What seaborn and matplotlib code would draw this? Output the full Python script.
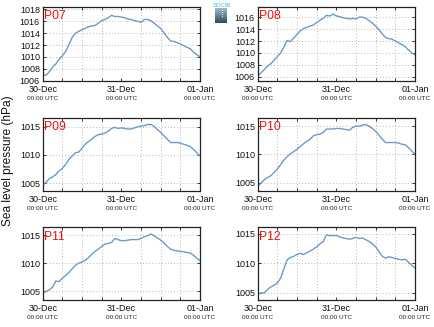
import numpy as np
import pandas as pd
import matplotlib
matplotlib.use("Agg")
import matplotlib.pyplot as plt
from matplotlib.ticker import FixedLocator, MultipleLocator
import seaborn as sns

# Hourly sea level pressure (hPa), 30-Dec 00:00 UTC to 01-Jan 00:00 UTC
hours = list(range(49))

p07 = [1007.1, 1006.9, 1007.5, 1008.3, 1008.8, 1009.6, 1010.2, 1010.9, 1012.1, 1013.3,
       1014.0, 1014.3, 1014.6, 1014.8, 1015.1, 1015.2, 1015.3, 1015.7, 1016.1, 1016.3,
       1016.6, 1017.0, 1016.8, 1016.8, 1016.7, 1016.6, 1016.4, 1016.3, 1016.1, 1016.0,
       1015.8, 1016.3, 1016.3, 1016.1, 1015.7, 1015.2, 1014.8, 1014.1, 1013.3, 1012.7,
       1012.6, 1012.4, 1012.2, 1011.9, 1011.6, 1011.4, 1010.8, 1010.4, 1010.0]
p08 = [1006.1, 1006.7, 1007.2, 1007.8, 1008.2, 1008.8, 1009.4, 1010.0, 1011.0, 1012.1,
       1011.9, 1012.5, 1013.1, 1013.7, 1014.1, 1014.3, 1014.5, 1014.7, 1015.1, 1015.5,
       1015.8, 1016.3, 1016.2, 1016.5, 1016.2, 1016.1, 1015.9, 1015.8, 1015.7, 1015.8,
       1015.7, 1016.0, 1016.0, 1015.8, 1015.4, 1015.0, 1014.5, 1013.9, 1013.2, 1012.6,
       1012.4, 1012.3, 1012.0, 1011.7, 1011.4, 1011.1, 1010.5, 1010.0, 1009.7]
p09 = [1004.7, 1005.1, 1005.8, 1006.1, 1006.5, 1007.2, 1007.6, 1008.3, 1009.2, 1009.8,
       1010.4, 1010.5, 1011.2, 1011.9, 1012.4, 1012.8, 1013.3, 1013.6, 1013.7, 1013.9,
       1014.2, 1014.7, 1014.9, 1014.7, 1014.8, 1014.7, 1014.6, 1014.6, 1014.8, 1015.0,
       1015.1, 1015.2, 1015.4, 1015.4, 1015.1, 1014.5, 1014.0, 1013.4, 1012.8, 1012.2,
       1012.2, 1012.2, 1012.1, 1011.9, 1011.7, 1011.5, 1011.0, 1010.4, 1009.8]
p10 = [1004.3, 1004.9, 1005.5, 1005.9, 1006.2, 1006.8, 1007.4, 1008.2, 1009.0, 1009.6,
       1010.1, 1010.5, 1010.9, 1011.4, 1011.9, 1012.3, 1012.7, 1013.3, 1013.5, 1013.6,
       1013.9, 1014.5, 1014.5, 1014.5, 1014.6, 1014.6, 1014.5, 1014.4, 1014.3, 1014.8,
       1015.0, 1015.0, 1015.2, 1015.3, 1015.0, 1014.6, 1014.1, 1013.4, 1012.7, 1012.1,
       1012.1, 1012.1, 1012.1, 1012.0, 1011.8, 1011.7, 1011.2, 1010.6, 1010.0]
p11 = [1004.7, 1004.9, 1005.2, 1005.7, 1006.8, 1006.7, 1007.3, 1007.8, 1008.3, 1009.0,
       1009.6, 1010.0, 1010.2, 1010.5, 1011.0, 1011.6, 1012.1, 1012.5, 1013.0, 1013.4,
       1013.5, 1013.7, 1014.4, 1014.2, 1014.0, 1014.0, 1014.1, 1014.2, 1014.2, 1014.2,
       1014.4, 1014.7, 1014.9, 1015.2, 1014.9, 1014.5, 1014.1, 1013.6, 1013.0, 1012.5,
       1012.3, 1012.2, 1012.1, 1012.0, 1011.9, 1011.8, 1011.4, 1010.9, 1010.4]
p12 = [1004.8, 1005.0, 1005.0, 1005.6, 1006.0, 1006.3, 1006.7, 1007.5, 1009.1, 1010.6,
       1011.0, 1011.2, 1011.5, 1011.7, 1011.5, 1011.8, 1012.1, 1012.4, 1012.8, 1013.3,
       1013.7, 1014.8, 1014.7, 1014.7, 1014.7, 1014.5, 1014.3, 1014.2, 1014.1, 1014.2,
       1014.4, 1014.2, 1014.3, 1014.0, 1013.7, 1013.3, 1012.8, 1012.0, 1011.2, 1010.9,
       1011.1, 1011.0, 1010.8, 1010.7, 1010.6, 1010.7, 1010.2, 1009.7, 1009.2]

stations = ["P07", "P08", "P09", "P10", "P11", "P12"]
series = [p07, p08, p09, p10, p11, p12]
y_limits = [(1005.95, 1018.4), (1005.3, 1017.7), (1003.6, 1016.5),
            (1003.5, 1016.4), (1003.4, 1016.4), (1003.8, 1016.1)]
y_ticks = [[1006, 1008, 1010, 1012, 1014, 1016, 1018],
           [1006, 1008, 1010, 1012, 1014, 1016],
           [1005, 1010, 1015], [1005, 1010, 1015],
           [1005, 1010, 1015], [1005, 1010, 1015]]
x_tick_hours = [0, 24, 48]
date_labels = ["30-Dec", "31-Dec", "01-Jan"]
time_label = "00:00 UTC"
y_label = "Sea level pressure (hPa)"

frame = pd.concat(
    [pd.DataFrame({"hour": hours, "pressure": vals, "station": name})
     for name, vals in zip(stations, series)],
    ignore_index=True,
)

sns.set_theme(style="white")
plt.rcParams["font.family"] = ["Liberation Sans", "DejaVu Sans"]

W, H = 435, 327
fig = plt.figure(figsize=(W / 100, H / 100), dpi=100)
fig.patch.set_facecolor("white")

# panel boxes in pixels: (left, top, right, bottom)
col_x = [(42.7, 200.0), (257.7, 415.0)]
row_y = [(7.0, 81.0), (118.3, 191.0), (227.3, 300.0)]

line_color = "#6b9bc8"
grid_kw = dict(color="#b8b8b8", linewidth=0.7, linestyle=(0, (1, 2.2)))

for i, name in enumerate(stations):
    r, c = divmod(i, 2)
    x0, x1 = col_x[c]
    y0, y1 = row_y[r]
    ax = fig.add_axes([x0 / W, 1 - y1 / H, (x1 - x0) / W, (y1 - y0) / H])
    sub = frame[frame["station"] == name]
    sns.lineplot(data=sub, x="hour", y="pressure", ax=ax, color=line_color,
                 linewidth=1.0, legend=False)
    ax.set_xlim(0, 48)
    ax.set_ylim(*y_limits[i])
    ax.set_xlabel("")
    ax.set_ylabel("")

    ax.xaxis.set_major_locator(FixedLocator(x_tick_hours))
    ax.xaxis.set_minor_locator(MultipleLocator(6))
    ax.set_xticklabels(date_labels)
    ax.set_yticks(y_ticks[i])
    ax.set_yticklabels([str(t) for t in y_ticks[i]])

    ax.grid(True, which="minor", axis="x", **grid_kw)
    ax.grid(True, which="major", axis="y", **grid_kw)
    ax.set_axisbelow(True)

    ax.tick_params(axis="x", which="both", direction="in", top=True, bottom=True,
                   length=2.5, width=0.7, color="#333333", labelsize=6.5, pad=3.2,
                   labelcolor="#111111")
    ax.tick_params(axis="y", which="major", direction="in", left=True, right=True,
                   length=2.5, width=0.7, color="#333333", labelsize=6.5, pad=2.0,
                   labelcolor="#111111")
    for side in ["left", "right", "top", "bottom"]:
        ax.spines[side].set_visible(True)
        ax.spines[side].set_color("#222222")
        ax.spines[side].set_linewidth(0.9)

    for hx in x_tick_hours:
        ax.annotate(time_label, xy=(hx, 0), xycoords=("data", "axes fraction"),
                    xytext=(0, -17.7), textcoords="offset pixels",
                    ha="center", va="center", fontsize=4.6, color="#222222",
                    annotation_clip=False)

    ax.annotate(name, xy=(0, 1), xycoords="axes fraction",
                xytext=(1.8, -12.2), textcoords="offset pixels",
                ha="left", va="baseline", fontsize=8.7, color="#ee1111")

fig.text(8.5 / W, 1 - 161 / H, y_label, rotation=90, ha="center", va="center",
         fontsize=8.6, color="#111111")

# small institutional logo between the top panels
logo = fig.add_axes([215 / W, 1 - 23.3 / H, 12 / W, 15 / H])
grad = np.linspace(0, 1, 64)[:, None]
logo_cmap = matplotlib.colors.LinearSegmentedColormap.from_list(
    "logo", ["#a9c1cc", "#6a8898", "#2f4c5c"])
logo.imshow(np.repeat(grad, 8, axis=1), cmap=logo_cmap, aspect="auto",
            extent=(0, 1, 0, 1), origin="upper")
logo.scatter([0.62] * 4, [0.88, 0.74, 0.60, 0.46], s=0.6, color="white",
             linewidths=0)
logo.set_xlim(0, 1)
logo.set_ylim(0, 1)
logo.axis("off")
fig.text(221.5 / W, 1 - 5.6 / H, "SOCIB", ha="center", va="center",
         fontsize=4.2, color="#3cb6d8")

fig.savefig("out.png", dpi=100, facecolor="white")
